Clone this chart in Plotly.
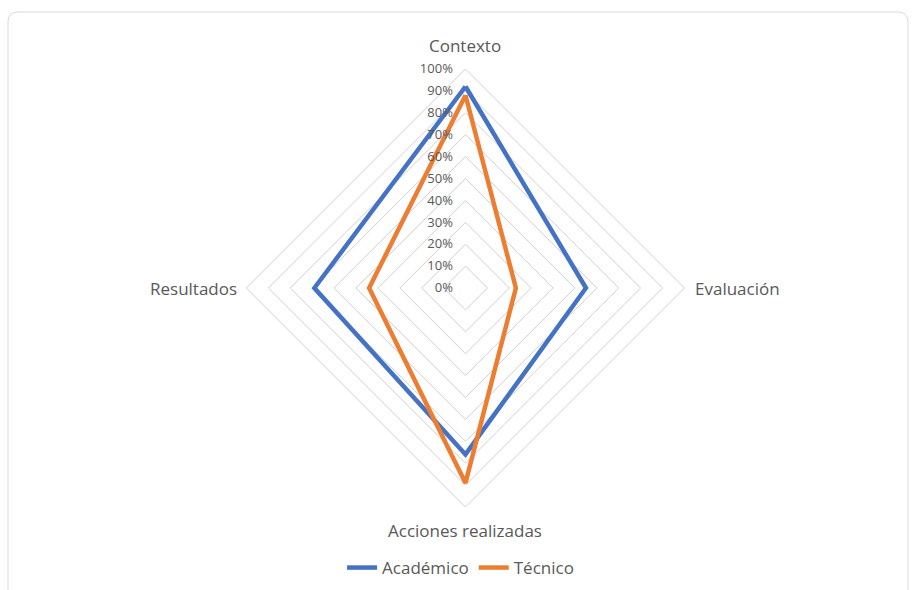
import plotly.graph_objects as go

# Radar categories (clockwise from the top) and scores in percent
categories = ["Contexto", "Evaluación", "Acciones realizadas", "Resultados"]
academico = [92, 55, 76, 69]
tecnico = [88, 23, 89, 44]
radial_ticks = list(range(0, 101, 10))
radial_tick_labels = [f"{v}%" for v in radial_ticks]

W, H = 912, 590
cx, cy, R = 465.5, 288, 219

fig = go.Figure()

def closed(vals):
    return vals + vals[:1]

fig.add_trace(go.Scatterpolar(
    r=closed(academico), theta=closed(categories), name="Académico",
    mode="lines", line=dict(color="#4472C4", width=4.5),
))
fig.add_trace(go.Scatterpolar(
    r=closed(tecnico), theta=closed(categories), name="Técnico",
    mode="lines", line=dict(color="#ED7D31", width=4.5),
))

# rounded chart-area frame
x0, y0, x1, y1, rr = 8, 12, 908, 600, 10
def px(x): return x / W
def py(y): return 1 - y / H
path = (
    f"M {px(x0 + rr)} {py(y0)} L {px(x1 - rr)} {py(y0)} "
    f"Q {px(x1)} {py(y0)} {px(x1)} {py(y0 + rr)} L {px(x1)} {py(y1)} "
    f"L {px(x0)} {py(y1)} L {px(x0)} {py(y0 + rr)} "
    f"Q {px(x0)} {py(y0)} {px(x0 + rr)} {py(y0)} Z"
)
fig.add_shape(type="path", path=path, xref="paper", yref="paper",
              line=dict(color="#D9D9D9", width=1), layer="below")

# category labels placed just outside each vertex of the radar
label_font = dict(size=17, color="#595959")
cat_pos = {
    "Contexto": (cx, cy - R - 23, "center", "middle"),
    "Evaluación": (cx + R + 8, cy, "left", "middle"),
    "Acciones realizadas": (cx, cy + R + 23, "center", "middle"),
    "Resultados": (cx - R - 8, cy, "right", "middle"),
}
for name in categories:
    x, y, xa, ya = cat_pos[name]
    fig.add_annotation(text=name, x=px(x), y=py(y), xref="paper", yref="paper",
                       xanchor=xa, yanchor=ya, showarrow=False, font=label_font)

# trailing no-break spaces keep the percent labels clear of the axis
pad = "\u00a0" * 3

fig.update_layout(
    width=W, height=H,
    margin=dict(l=0, r=0, t=0, b=0),
    paper_bgcolor="white",
    font=dict(family="Open Sans, sans-serif", color="#595959"),
    polar=dict(
        bgcolor="white",
        gridshape="linear",
        domain=dict(x=[(cx - R) / W, (cx + R) / W],
                    y=[1 - (cy + R) / H, 1 - (cy - R) / H]),
        radialaxis=dict(
            range=[0, 100], tickvals=radial_ticks,
            ticktext=[t + pad for t in radial_tick_labels],
            angle=90, tickangle=90, side="counterclockwise",
            showline=False, ticks="", gridcolor="#D0D0D0", gridwidth=1,
            tickfont=dict(size=13, color="#595959"),
        ),
        angularaxis=dict(
            rotation=90, direction="clockwise",
            showgrid=False, showline=True, linecolor="#D0D0D0", linewidth=1,
            ticks="", showticklabels=False,
        ),
    ),
    legend=dict(
        orientation="h", x=0.505, xanchor="center", y=1 - 568 / H, yanchor="middle",
        font=dict(size=17, color="#595959"),
    ),
)

fig.write_html("out.html")
